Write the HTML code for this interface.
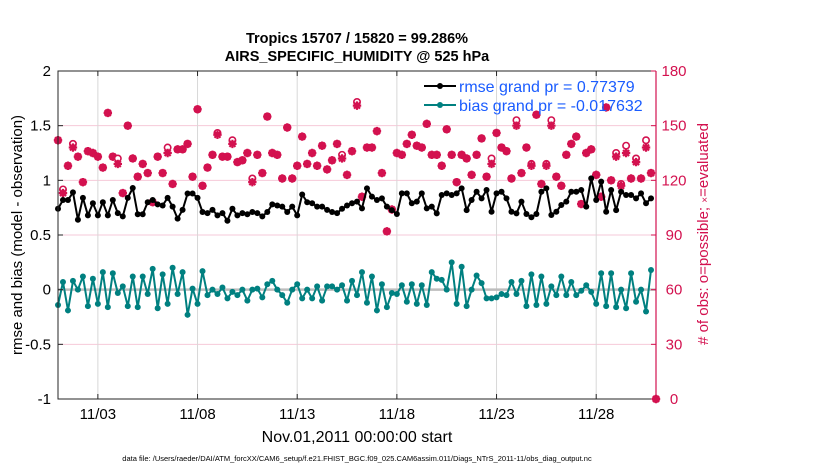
<!DOCTYPE html>
<html><head><meta charset="utf-8">
<style>
html,body{margin:0;padding:0;background:#fff;}
svg{display:block;font-family:"Liberation Sans",sans-serif;}
</style></head>
<body>
<svg id="chart" width="830" height="470" viewBox="0 0 830 470">
  <rect x="0" y="0" width="830" height="470" fill="#fff"/>
  <g id="grid"></g>
  <g id="marks"></g>
  <g id="axes"></g>
  <text x="357" y="43" text-anchor="middle" font-size="14.5" font-weight="bold">Tropics 15707 / 15820 = 99.286%</text>
  <text x="357" y="61" text-anchor="middle" font-size="14.5" font-weight="bold">AIRS_SPECIFIC_HUMIDITY @ 525 hPa</text>
  <text transform="translate(22,235) rotate(-90)" text-anchor="middle" font-size="15">rmse and bias (model - observation)</text>
  <text transform="translate(708,234) rotate(-90)" text-anchor="middle" font-size="15" fill="#d3114f"># of obs: o=possible; <tspan font-size="10">×</tspan>=evaluated</text>
  <text x="357" y="442" text-anchor="middle" font-size="16">Nov.01,2011 00:00:00 start</text>
  <text x="357" y="461" text-anchor="middle" font-size="7.5">data file: /Users/raeder/DAI/ATM_forcXX/CAM6_setup/f.e21.FHIST_BGC.f09_025.CAM6assim.011/Diags_NTrS_2011-11/obs_diag_output.nc</text>
  <g id="legend">
    <g>
      <line x1="424" y1="86" x2="456" y2="86" stroke="#000" stroke-width="2"/>
      <circle cx="440" cy="86" r="3" fill="#000"/>
      <text x="459" y="92" font-size="16" fill="#1a5cff">rmse grand pr = 0.77379</text>
    </g>
    <g>
      <line x1="424" y1="105" x2="456" y2="105" stroke="#008080" stroke-width="2"/>
      <circle cx="440" cy="105" r="3" fill="#008080"/>
      <text x="459" y="111" font-size="16" fill="#1a5cff">bias grand pr = -0.017632</text>
    </g>
  </g>
</svg>
<script>
const rmse = [0.74,0.82,0.82,0.89,0.64,0.84,0.68,0.79,0.68,0.80,0.68,0.82,0.70,0.67,0.84,0.93,0.69,0.69,0.80,0.82,
0.78,0.77,0.84,0.76,0.65,0.73,0.88,0.88,0.84,0.71,0.70,0.73,0.68,0.70,0.63,0.74,0.68,0.70,0.69,0.71,
0.70,0.67,0.71,0.78,0.77,0.76,0.71,0.76,0.68,0.87,0.80,0.79,0.76,0.76,0.73,0.71,0.70,0.74,0.77,0.79,
0.805,0.744,0.927,0.851,0.82,0.835,0.759,0.728,0.692,0.881,0.881,0.79,0.805,0.881,0.744,0.759,0.698,0.866,0.881,0.866,
0.881,0.927,0.728,0.82,0.896,0.835,0.912,0.713,0.881,0.896,0.835,0.713,0.698,0.805,0.692,0.662,0.692,0.896,0.927,0.683,
0.713,0.774,0.805,0.896,0.896,0.912,0.759,1.018,0.82,0.988,0.713,0.912,0.728,0.896,0.866,0.866,0.835,0.881,0.79,0.835];
const bias = [-0.14,0.07,-0.19,0.08,0,0.12,-0.15,0.10,-0.13,0.16,-0.16,0.15,-0.03,0.03,-0.15,0.12,-0.16,0.12,-0.04,0.19,
-0.17,0.14,-0.13,0.20,-0.04,0.16,-0.23,0.01,-0.13,0.17,-0.05,0,-0.04,0.02,-0.08,-0.02,-0.05,0,-0.10,0,
0.01,-0.07,0.05,0.08,0,-0.05,-0.12,0,0.05,-0.08,0,-0.08,0.03,-0.10,0.03,0.03,0,0.04,-0.10,0.08,
-0.05,0.16,-0.12,0.12,-0.19,0.05,-0.16,-0.03,-0.04,0.04,-0.11,0.05,-0.13,0.04,-0.14,0.16,0.10,0.09,0,0.25,
-0.13,0.21,-0.15,0,0.13,0.06,-0.08,-0.08,-0.07,-0.04,-0.05,0.07,-0.04,0.08,-0.15,0.14,-0.14,0.12,-0.13,0.03,
-0.05,0.12,-0.05,0.07,-0.05,-0.01,0.04,-0.02,-0.13,0.15,-0.15,0.15,-0.16,0,-0.17,0.15,-0.11,0,-0.20,0.18];
const obsUsed = [142,113,128,138,133,119,136,135,133,127,157,133,129,113,150,132,122,129,124,108,
133,124,135,118,137,137,140,122,159,117,127,134,145,133,133,140,130,131,135,119,
134,124,155,135,134,121,149,121,128,144,129,135,128,139,126,131,140,132,123,136,
161,111,138,138,147,124,92,104,135,134,140,145,139,138,151,134,134,128,148,134,
119,134,132,123,134,143,122,129,146,138,136,121,150,124,138,128,156,118,128,150,
122,117,134,140,144,107,135,137,123,111,160,120,133,117,135,121,130,121,138,124,0];
const obsPoss = [142,115,128,140,133,119,136,135,133,127,157,133,132,113,150,132,122,129,124,108,
133,124,138,118,137,137,140,122,159,117,127,134,146,133,133,142,130,131,135,121,
134,124,155,135,134,121,149,121,128,144,129,135,128,139,126,131,140,134,123,136,
163,111,138,138,147,124,92,104,135,134,140,145,139,138,151,134,134,128,148,134,
119,134,132,123,134,143,122,132,146,138,136,121,153,124,138,129,156,118,129,153,
122,117,134,140,144,107,135,137,123,111,160,120,135,118,139,121,132,121,142,124,0];
const xTickDays = [3,8,13,18,23,28];
const xTickLabels = ["11/03","11/08","11/13","11/18","11/23","11/28"];
const yTicks = [-1,-0.5,0,0.5,1,1.5,2];
const yTickLabels = ["-1","-0.5","0","0.5","1","1.5","2"];
const y2Ticks = [0,30,60,90,120,150,180];

const NS="http://www.w3.org/2000/svg";
const L=58,R=656,T=71,B=399;
const X=d=>L+(d-1)/30*(R-L);
const Y=v=>B-(v+1)/3*(B-T);
const Y2=v=>B-v/180*(B-T);
const dayOf=i=>1+i/4;
function mk(tag,attrs,parent){const e=document.createElementNS(NS,tag);for(const k in attrs)e.setAttribute(k,attrs[k]);parent.appendChild(e);return e;}
const grid=document.getElementById('grid'),marks=document.getElementById('marks'),axes=document.getElementById('axes');
const RED="#d3114f";

y2Ticks.forEach(t=>{const g=mk('line',{x1:L,x2:R,y1:Y2(t),y2:Y2(t),stroke:"#f6c9d8","stroke-width":1},grid);

});
xTickDays.forEach(d=>{const g=mk('line',{x1:X(d),x2:X(d),y1:T,y2:B,stroke:"#d8d8d8","stroke-width":1},grid);

});
const zl=mk('line',{x1:L,x2:R,y1:Y(0),y2:Y(0),stroke:"#bdbdbd","stroke-width":2.5},grid);



const obsG=mk('g',{},marks);


obsUsed.forEach((v,i)=>{
  const cx=X(dayOf(i));
  const p=obsPoss[i];
  const c=mk('circle',{cx:cx,cy:Y2(p),r:3.2,fill:"#fff",stroke:RED,"stroke-width":1.6},obsG);
  
  
  const cy=Y2(v),s=4.2;
  const a=mk('path',{d:`M${cx-s},${cy}H${cx+s}M${cx},${cy-s}V${cy+s}M${cx-3},${cy-3}L${cx+3},${cy+3}M${cx-3},${cy+3}L${cx+3},${cy-3}`,stroke:RED,"stroke-width":2.2},obsG);
  
  
});

function series(arr,color,name){
  const g=mk('g',{},marks);
  
  
  const d=arr.map((v,i)=>(i?'L':'M')+X(dayOf(i)).toFixed(1)+','+Y(v).toFixed(1)).join('');
  const p=mk('path',{d:d,fill:"none",stroke:color,"stroke-width":2,"stroke-linejoin":"round"},g);
  
  
  arr.forEach((v,i)=>{const c=mk('circle',{cx:X(dayOf(i)),cy:Y(v),r:3,fill:color},g);
    
    });
}
series(bias,"#008080","bias-series");
series(rmse,"#000000","rmse-series");

const f1=mk('path',{d:`M${R},${T}H${L}V${B}H${R}`,fill:"none",stroke:"#262626","stroke-width":1},axes);


const f2=mk('line',{x1:R,x2:R,y1:T,y2:B,stroke:RED,"stroke-width":1.2},axes);


yTicks.forEach((t,i)=>{
  const y=Y(t);
  const tk=mk('line',{x1:L,x2:L+5,y1:y,y2:y,stroke:"#262626"},axes);
  
  
  const tx=mk('text',{x:L-7,y:y+5,"text-anchor":"end","font-size":15},axes);
  tx.textContent=yTickLabels[i];
  
  
});
y2Ticks.forEach(t=>{
  const y=Y2(t);
  const tk=mk('line',{x1:R-5,x2:R,y1:y,y2:y,stroke:RED},axes);
  
  
  const tx=mk('text',{x:R+18,y:y+5,"font-size":15,fill:RED,"text-anchor":"middle"},axes);
  tx.textContent=String(t);
  
  
});
xTickDays.forEach((d,i)=>{
  const x=X(d);
  const tk=mk('line',{x1:x,x2:x,y1:B,y2:B-5,stroke:"#262626"},axes);
  
  
  const tk2=mk('line',{x1:x,x2:x,y1:T,y2:T+5,stroke:"#262626"},axes);
  
  
  const tx=mk('text',{x:x,y:B+20,"text-anchor":"middle","font-size":15},axes);
  tx.textContent=xTickLabels[i];
  
  
});
</script>
</body></html>
